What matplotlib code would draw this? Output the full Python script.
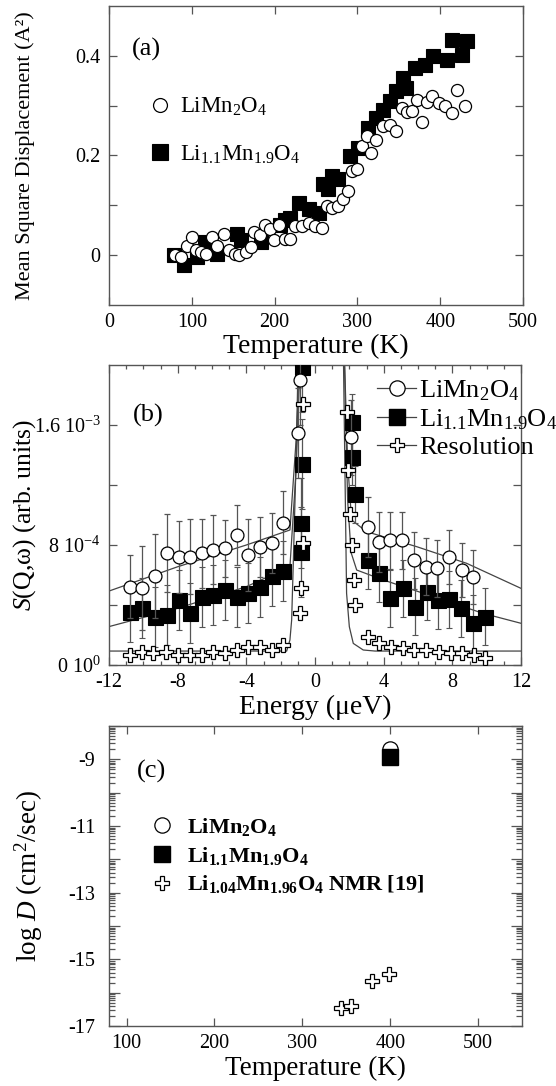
import matplotlib
matplotlib.use('Agg')
import matplotlib.pyplot as plt
import numpy as np
from matplotlib.ticker import FixedLocator, FixedFormatter, MultipleLocator
from matplotlib.lines import Line2D

plt.rcParams['font.family'] = ['Liberation Serif', 'DejaVu Serif']
plt.rcParams['mathtext.fontset'] = 'custom'
plt.rcParams['mathtext.rm'] = 'Liberation Serif'
plt.rcParams['mathtext.it'] = 'Liberation Serif:italic'
plt.rcParams['mathtext.bf'] = 'Liberation Serif:bold'
plt.rcParams['axes.unicode_minus'] = False

# ---------------- data: panel (a) ----------------
T_ci = [80, 87, 94, 100, 105, 111, 117, 124, 130, 139, 145, 152, 157, 165, 171, 175, 182, 188, 195, 199,
        205, 212, 218, 225, 233, 241, 249, 257, 263, 269, 277, 283, 289, 293, 299, 305, 312, 317, 323, 331,
        339, 347, 354, 360, 366, 372, 378, 384, 390, 398, 406, 414, 420, 430]
msd_ci = [0.000, -0.004, 0.019, 0.036, 0.010, 0.006, 0.003, 0.036, 0.019, 0.043, 0.010, 0.003, 0.000, 0.006,
          0.016, 0.046, 0.040, 0.060, 0.053, 0.030, 0.060, 0.033, 0.033, 0.059, 0.059, 0.065, 0.059, 0.055,
          0.099, 0.095, 0.099, 0.112, 0.129, 0.169, 0.172, 0.219, 0.239, 0.205, 0.232, 0.259, 0.262, 0.249,
          0.295, 0.287, 0.289, 0.312, 0.267, 0.307, 0.319, 0.305, 0.300, 0.285, 0.332, 0.300]
T_sq = [79, 91, 106, 116, 130, 155, 160, 184, 207, 212, 218, 229, 242, 254, 259, 265, 269, 277, 291, 301,
        313, 323, 331, 339, 347, 355, 359, 370, 382, 391, 408, 414, 426, 432]
msd_sq = [0.000, -0.020, -0.003, 0.026, 0.003, 0.043, 0.030, 0.026, 0.060, 0.070, 0.075, 0.105, 0.092, 0.085,
          0.142, 0.132, 0.159, 0.152, 0.199, 0.215, 0.255, 0.275, 0.292, 0.309, 0.329, 0.355, 0.335, 0.375,
          0.382, 0.399, 0.392, 0.432, 0.402, 0.429]

# ---------------- data: panel (b) ----------------
E_ci = [-10.78, -10.1, -9.32, -8.6, -7.94, -7.28, -6.6, -5.92, -5.24, -4.56, -3.89, -3.2, -2.52, -1.85,
        -1.0, -0.85, 2.1, 3.07, 3.72, 4.36, 5.04, 5.78, 6.46, 7.12, 7.82, 8.54, 9.18]
S_ci = [5.22e-4, 5.11e-4, 5.93e-4, 7.44e-4, 7.22e-4, 7.22e-4, 7.44e-4, 7.67e-4, 7.78e-4, 8.67e-4, 7.33e-4,
        7.89e-4, 8.11e-4, 9.49e-4, 1.55e-3, 1.90e-3, 1.52e-3, 9.22e-4, 8.22e-4, 8.33e-4, 8.33e-4, 7.0e-4,
        6.56e-4, 6.44e-4, 7.18e-4, 6.33e-4, 5.89e-4]
err_ci = [2.1e-4, 2.8e-4, 2.8e-4, 2.6e-4, 2.4e-4, 2.5e-4, 2.3e-4, 2.3e-4, 1.9e-4, 2.0e-4, 2.4e-4, 2.0e-4,
          2.0e-4, 2.1e-4, 3.0e-4, 3.0e-4, 2.5e-4, 2.0e-4, 2.0e-4, 1.9e-4, 1.9e-4, 1.9e-4, 1.9e-4, 1.9e-4,
          1.8e-4, 1.8e-4, 1.8e-4]
E_sq = [-10.78, -10.1, -9.32, -8.6, -7.94, -7.28, -6.6, -5.92, -5.24, -4.56, -3.89, -3.2, -2.52, -1.85,
        -0.82, -0.82, -0.78, -0.78, 2.13, 2.13, 2.32, 3.1, 3.72, 4.36, 5.1, 5.82, 6.5, 7.14, 7.82, 8.5, 9.18, 9.9]
S_sq = [3.56e-4, 3.78e-4, 3.22e-4, 3.33e-4, 4.33e-4, 3.44e-4, 4.56e-4, 4.67e-4, 5.0e-4, 4.51e-4, 4.78e-4,
        5.22e-4, 5.93e-4, 6.29e-4, 7.56e-4, 9.44e-4, 1.34e-3, 1.99e-3, 1.62e-3, 1.39e-3, 1.14e-3, 7.0e-4,
        6.11e-4, 4.44e-4, 5.11e-4, 3.89e-4, 4.89e-4, 4.33e-4, 4.38e-4, 3.78e-4, 2.78e-4, 3.22e-4]
err_sq = [2.0e-4] * 14 + [3.0e-4] * 4 + [1.9e-4] * 14
E_res = [-10.78, -10.1, -9.42, -8.68, -7.96, -7.28, -6.6, -5.92, -5.24, -4.56, -3.89, -3.2, -2.52, -1.85,
         -0.85, -0.82, -0.72, -0.68, 1.86, 1.92, 2.06, 2.16, 2.27, 2.33, 3.09, 3.71, 4.43, 5.15, 5.77, 6.49,
         7.22, 7.94, 8.56, 9.28, 9.9]
S_res = [6.7e-5, 8.9e-5, 7.8e-5, 8.9e-5, 6.7e-5, 6.7e-5, 6.7e-5, 8.9e-5, 7.8e-5, 1.0e-4, 1.22e-4, 1.22e-4,
         1.0e-4, 1.33e-4, 3.44e-4, 5.11e-4, 8.11e-4, 1.74e-3, 1.69e-3, 1.30e-3, 1.01e-3, 8.0e-4, 5.67e-4,
         4.0e-4, 1.89e-4, 1.44e-4, 1.22e-4, 1.11e-4, 1.0e-4, 1.0e-4, 8.9e-5, 7.8e-5, 7.8e-5, 6.7e-5, 4.4e-5]
# fit curves (values above 2e-3 run off the top of the axes)
fitE_ci = [-12, -8, -4, -1.46, -1.1, -0.85, 1.7, 1.9, 2.13, 3.0, 5.92, 8.83, 12]
fitS_ci = [4.93e-4, 6.55e-4, 8.0e-4, 9.0e-4, 1.5e-3, 2.1e-3, 2.1e-3, 1.35e-3, 9.67e-4, 8.89e-4, 7.89e-4,
           6.78e-4, 5.11e-4]
fitE_sq = [-12, -8, -4, -1.46, -1.1, -0.85, 1.7, 1.9, 2.1, 2.43, 3.98, 6.89, 9.8, 12]
fitS_sq = [2.56e-4, 3.78e-4, 5.22e-4, 6.56e-4, 1.3e-3, 2.1e-3, 2.1e-3, 1.1e-3, 7.5e-4, 6.33e-4, 5.67e-4,
           4.56e-4, 3.44e-4, 2.78e-4]
fitE_res = [-12, -1.65, -1.46, -1.36, -1.26, -1.1, -0.97, 1.65, 1.84, 2.0, 2.23, 2.81, 3.5, 12]
fitS_res = [9.3e-5, 9.3e-5, 1.67e-4, 3.0e-4, 7.0e-4, 1.37e-3, 2.1e-3, 2.1e-3, 4.78e-4, 2.55e-4, 1.44e-4,
            1.0e-4, 9.3e-5, 9.3e-5]

# ---------------- data: panel (c) ----------------
Tc_ci = [400]
logD_ci = [-8.68]
Tc_sq = [400]
logD_sq = [-8.93]
Tc_nmr = [344, 355, 379, 399]
logD_nmr = [-16.45, -16.4, -15.65, -15.45]

lab_ci = r'LiMn$_2$O$_4$'
lab_sq = r'Li$_{1.1}$Mn$_{1.9}$O$_4$'

fig = plt.figure(figsize=(5.56, 10.86), dpi=100)
W, H = 556.0, 1086.0


def box(left, right, top, bot):
    return [left / W, 1 - bot / H, (right - left) / W, (bot - top) / H]


axa = fig.add_axes(box(109, 523, 6, 305))
axb = fig.add_axes(box(109, 521, 365, 665))
axc = fig.add_axes(box(109, 522, 726, 1026))

SP = '#555555'


def style(ax):
    for s in ax.spines.values():
        s.set_color(SP)
        s.set_linewidth(1.0)
    ax.tick_params(which='both', direction='in', top=True, right=True, color=SP,
                   labelsize=14.5, width=0.9)
    ax.tick_params(which='major', length=6, pad=6)
    ax.tick_params(which='minor', length=3)


# ---------------- panel (a) ----------------
style(axa)
hs, = axa.plot(T_sq, msd_sq, 's', ms=9.4, mfc='black', mec='black', mew=0.8, zorder=2)
hc, = axa.plot(T_ci, msd_ci, 'o', ms=8.7, mfc='white', mec='black', mew=0.9, zorder=3)
axa.set_xlim(0, 500)
axa.set_ylim(-0.1, 0.5)
axa.xaxis.set_major_locator(FixedLocator([0, 100, 200, 300, 400, 500]))
axa.yaxis.set_major_locator(FixedLocator([0, 0.1, 0.2, 0.3, 0.4]))
axa.yaxis.set_major_formatter(FixedFormatter(['0', '', '0.2', '', '0.4']))
axa.set_xlabel('Temperature (K)', fontsize=20)
axa.set_ylabel('Mean Square Displacement (A²)', fontsize=16)
axa.xaxis.set_label_coords(0.5, -0.140)
axa.xaxis.label.set_va('center')
axa.yaxis.set_label_coords(-0.203, 0.5)
axa.yaxis.label.set_va('center')
axa.text(0.056, 0.853, '(a)', transform=axa.transAxes, fontsize=19, va='center', ha='left')
axa.legend([hc, hs], [lab_ci, lab_sq], loc='upper left', bbox_to_anchor=(0.095, 0.70),
           frameon=False, fontsize=16.5, handlelength=1.0, handletextpad=0.37, borderpad=0,
           borderaxespad=0, labelspacing=1.1, markerscale=1.15)

# ---------------- panel (b) ----------------
style(axb)
axb.plot(fitE_ci, fitS_ci, '-', color='#444444', lw=0.9, zorder=1)
axb.plot(fitE_sq, fitS_sq, '-', color='#444444', lw=0.9, zorder=1)
axb.plot(fitE_res, fitS_res, '-', color='#444444', lw=0.9, zorder=1)
axb.errorbar(E_sq, S_sq, yerr=err_sq, fmt='s', ms=10.8, mfc='black', mec='black', mew=0.8,
             ecolor='#555555', elinewidth=0.9, capsize=2.5, capthick=0.9, zorder=3)
axb.errorbar(E_ci, S_ci, yerr=err_ci, fmt='o', ms=9.3, mfc='white', mec='black', mew=0.9,
             ecolor='#555555', elinewidth=0.9, capsize=2.5, capthick=0.9, zorder=4)
axb.plot(E_res, S_res, 'P', ms=10, mfc='white', mec='black', mew=0.9, zorder=5)
axb.set_xlim(-12, 12)
axb.set_ylim(0, 2e-3)
axb.xaxis.set_major_locator(FixedLocator([-12, -8, -4, 0, 4, 8, 12]))
axb.xaxis.set_minor_locator(MultipleLocator(1))
axb.yaxis.set_major_locator(FixedLocator([0, 4e-4, 8e-4, 1.2e-3, 1.6e-3]))
axb.yaxis.set_major_formatter(FixedFormatter([r'0 10$^{0}$', '', r'8 10$^{-4}$', '', r'1.6 10$^{-3}$']))
axb.set_xlabel('Energy (μeV)', fontsize=20)
axb.set_ylabel(r'$\mathit{S}$(Q,ω) (arb. units)', fontsize=18.5)
axb.xaxis.set_label_coords(0.5, -0.143)
axb.xaxis.label.set_va('center')
axb.yaxis.set_label_coords(-0.204, 0.5)
axb.yaxis.label.set_va('center')
axb.text(0.058, 0.833, '(b)', transform=axb.transAxes, fontsize=19, va='center', ha='left')
lh_ci = Line2D([], [], color='#444444', lw=0.9, marker='o', ms=11, mfc='white', mec='black', mew=0.9)
lh_sq = Line2D([], [], color='#444444', lw=0.9, marker='s', ms=12, mfc='black', mec='black')
lh_res = Line2D([], [], color='#444444', lw=0.9, marker='P', ms=10, mfc='white', mec='black', mew=0.9)
axb.legend([lh_ci, lh_sq, lh_res], [lab_ci, lab_sq, 'Resolution'], loc='upper left',
           bbox_to_anchor=(0.65, 0.955), frameon=False, fontsize=19, handlelength=1.5,
           handletextpad=0.1, borderpad=0, borderaxespad=0, labelspacing=0.15)

# ---------------- panel (c) ----------------
style(axc)
c1, = axc.plot(Tc_ci, logD_ci, 'o', ms=11, mfc='white', mec='black', mew=0.9, zorder=3)
c2, = axc.plot(Tc_sq, logD_sq, 's', ms=11, mfc='black', mec='black', zorder=4)
c3, = axc.plot(Tc_nmr, logD_nmr, 'P', ms=10.5, mfc='white', mec='black', mew=0.9, zorder=3)
axc.set_xlim(80, 550)
axc.set_ylim(-17, -8)
axc.xaxis.set_major_locator(FixedLocator([100, 200, 300, 400, 500]))
majors = list(range(-17, -7))
axc.yaxis.set_major_locator(FixedLocator(majors))
axc.yaxis.set_major_formatter(FixedFormatter([str(m) if m % 2 else '' for m in majors]))
minors = [n + np.log10(k) for n in range(-17, -8) for k in range(2, 10)]
axc.yaxis.set_minor_locator(FixedLocator(minors))
axc.tick_params(axis='y', which='major', length=8, pad=10)
axc.tick_params(axis='y', which='minor', length=4)
axc.set_xlabel('Temperature (K)', fontsize=19.5)
axc.set_ylabel(r'log $\mathit{D}$ (cm$^2$/sec)', fontsize=19.5)
axc.xaxis.set_label_coords(0.5, -0.14)
axc.xaxis.label.set_va('center')
axc.yaxis.set_label_coords(-0.194, 0.5)
axc.yaxis.label.set_va('center')
axc.text(0.068, 0.847, '(c)', transform=axc.transAxes, fontsize=19, va='center', ha='left')
axc.legend([c1, c2, c3],
           [r'$\mathbf{LiMn_2O_4}$', r'$\mathbf{Li_{1.1}Mn_{1.9}O_4}$',
            r'$\mathbf{Li_{1.04}Mn_{1.96}O_4\ NMR\ [19]}$'],
           loc='upper left', bbox_to_anchor=(0.102, 0.70), frameon=False, fontsize=16,
           handlelength=1.0, handletextpad=0.6, borderpad=0, borderaxespad=0, labelspacing=0.3)

fig.savefig('out.png', dpi=100)
